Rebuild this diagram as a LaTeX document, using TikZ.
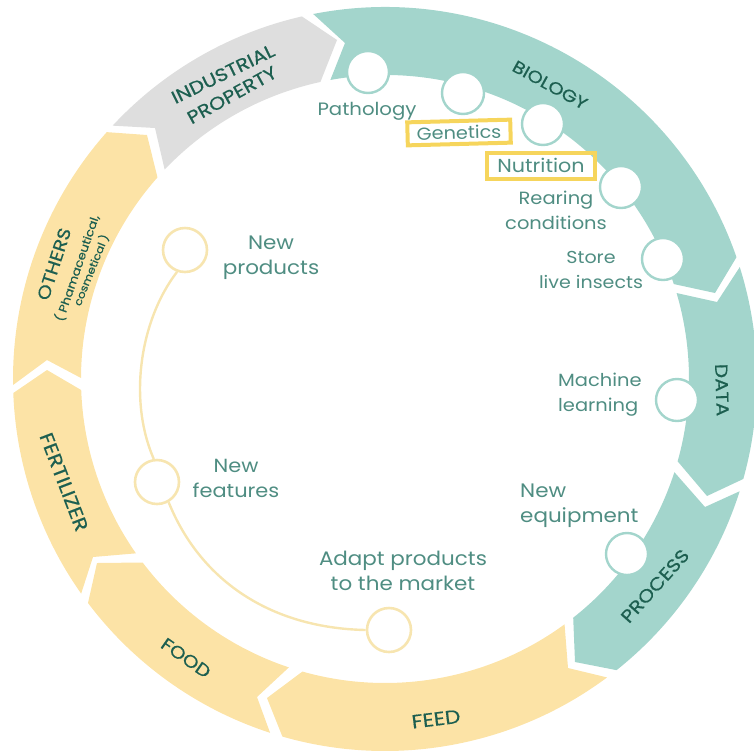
\documentclass[tikz,border=0pt]{standalone}
\usepackage{fontspec}
\setmainfont[FakeStretch=1.1]{Poppins}
\newfontfamily\capfont[FakeStretch=1.15,FakeBold=0.5]{Poppins}
\definecolor{ringteal}{HTML}{A3D5CC}
\definecolor{ringyellow}{HTML}{FCE3A6}
\definecolor{ringgray}{HTML}{DEDEDE}
\definecolor{labelteal}{HTML}{4F8D82}
\definecolor{capgreen}{HTML}{1D5F50}
\definecolor{lineyellow}{HTML}{F7E5B0}
\definecolor{boxyellow}{HTML}{F6D55C}
\newcommand\ringangles[8]{%
  \pgfmathsetmacro\rOa{atan2(#2-379,#1-385)}%
  \pgfmathsetmacro\rOb{atan2(#4-379,#3-385)}%
  \pgfmathsetmacro\rIa{atan2(#6-379,#5-385)}%
  \pgfmathsetmacro\rIb{atan2(#8-379,#7-385)}%
  \pgfmathsetmacro\rOb{\rOb<\rOa?\rOb+360:\rOb}%
  \pgfmathsetmacro\rIb{\rIb<\rIa?\rIb+360:\rIb}%
}
\newcommand\ringfill[3]{%
  \fill[#1] ([shift={(385,379)}]\rOa:372) arc[start angle=\rOa,end angle=\rOb,radius=372]
    -- (#3) -- ([shift={(385,379)}]\rIb:304) arc[start angle=\rIb,end angle=\rIa,radius=304]
    -- (#2) -- cycle;%
}
\tikzset{
  hole/.style={circle,draw=ringteal,fill=white,line width=2.4pt,minimum size=42pt,inner sep=0pt},
  yhole/.style={circle,draw=lineyellow,fill=white,line width=2.6pt,minimum size=44pt,inner sep=0pt},
  lab/.style={text=labelteal,font=\fontsize{#1}{25}\selectfont,align=center,inner sep=0pt},
  labl/.style={lab=#1,align=left,anchor=west},
  capl/.style={text=capgreen,font=\capfont\fontsize{#1}{20}\selectfont,inner sep=0pt},
  ybox/.style={lab=#1,draw=boxyellow,line width=4pt,inner sep=0pt},
  conn/.style={draw=lineyellow,line width=2.4pt}
}
\begin{document}
\begin{tikzpicture}[x=1pt,y=-1pt]
\useasboundingbox (0,0) rectangle (754,753);
\clip (0,0) rectangle (754,753);
% ring segments
\ringangles{313}{13}{737}{257}{330}{78}{677}{283}
\ringfill{ringteal}{345,43}{715,293}
\ringangles{740}{267}{747}{480}{680}{292}{680}{462}
\ringfill{ringteal}{717,302}{707,496}
\ringangles{742}{492}{618}{672}{677}{473}{575}{620}
\ringfill{ringteal}{705,507}{575,662}
\ringangles{609}{680}{282}{738}{568}{629}{302}{673}
\ringfill{ringyellow}{568,668}{267,698}
\ringangles{270}{733}{88}{603}{288}{670}{142}{563}
\ringfill{ringyellow}{257,697}{97,563}
\ringangles{82}{593}{14}{393}{135}{554}{82}{390}
\ringfill{ringyellow}{93,557}{47,370}
\ringangles{13}{385}{110}{135}{82}{378}{157}{177}
\ringfill{ringyellow}{47,360}{147,135}
\ringangles{113}{126}{302}{17}{163}{168}{320}{80}
\ringfill{ringgray}{155,128}{337,40}
% circles
\node[hole] (pathology) at (368,72) {};
\node[hole] (genetics) at (463,93) {};
\node[hole] (nutrition) at (543,124) {};
\node[hole] (rearing) at (621,187) {};
\node[hole] (store) at (663,259) {};
\node[hole] (machine) at (677,400) {};
\node[hole] (equipment) at (627,554) {};
\node[yhole] (nprod) at (185,250) {};
\node[yhole] (nfeat) at (157,482) {};
\node[yhole] (adapt) at (389,630) {};
\draw[conn] (nprod.250) .. controls (140,320) and (128,400) .. (nfeat.98);
\draw[conn] (nfeat.-60) .. controls (200,580) and (270,628) .. (adapt.180);
% texts
\node[lab=17.9] (tpath) at (367,111) {Pathology};
\node[ybox=17.5,rotate=1.5,minimum width=103pt,minimum height=23pt] (tgen) at (459,132.5) {Genetics};
\node[ybox=18.8,minimum width=108pt,minimum height=26pt] (tnut) at (541,165.5) {Nutrition};
\node[lab=17.7] (trear) at (556,210.5) {Rearing\\conditions};
\node[lab=17.3] (tstore) at (591,269.5) {Store\\live insects};
\node[labl=17.7] (tmach) at (558,394.5) {Machine\\learning};
\node[labl=19.5] (tequip) at (520,506) {New\\equipment};
\node[lab=19.5] (tnprod) at (271,258) {New\\products};
\node[lab=19] (tnfeat) at (236,478) {New\\features};
\node[lab=19.5] (tadapt) at (403,570.5) {Adapt products\\to the market};
% ring labels
\node[capl=17,rotate=-29] (cbio) at (550,85) {BIOLOGY};
\node[capl=17.5,rotate=-88] (cdata) at (722,390) {DATA};
\node[capl=18,rotate=48] (cproc) at (655,586) {PROCESS};
\node[capl=19,rotate=7] (cfeed) at (436,719) {FEED};
\node[capl=17.5,rotate=-35] (cfood) at (186,658) {FOOD};
\node[capl=19,rotate=-69] (cfert) at (64,482) {FERTILIZER};
\node[capl=17.5,rotate=72] (coth) at (54,264) {OTHERS};
\node[capl=11.4,rotate=71] (cph) at (77,268) {( Phamaceutical,};
\node[capl=10.5,rotate=68] (ccos) at (91,270) {cosmetical )};
\node[capl=18,rotate=26] (cind) at (223,74) {INDUSTRIAL};
\node[capl=18,rotate=29] (cprop) at (232,95) {PROPERTY};
\end{tikzpicture}
\end{document}
